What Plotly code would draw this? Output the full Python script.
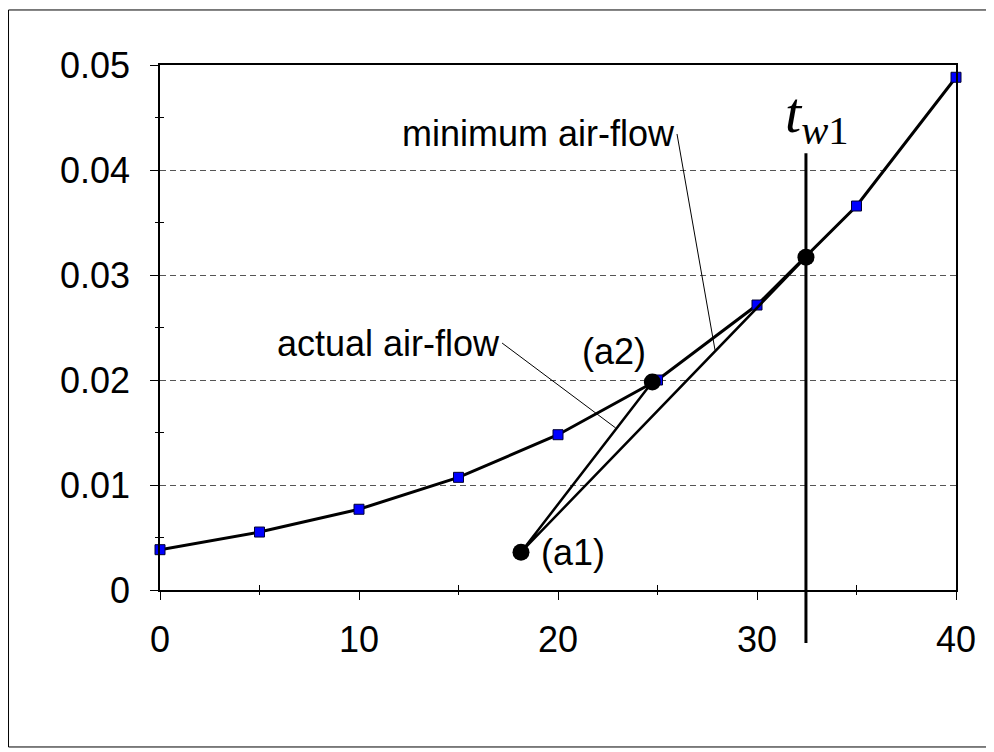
import plotly.graph_objects as go

# Saturation curve (temperature vs humidity ratio)
temps = [0, 5, 10, 15, 20, 25, 30, 35, 40]
sat_values = [0.00384, 0.00552, 0.00769, 0.01073, 0.01479, 0.0200, 0.02714, 0.03657, 0.04883]

# Process points
a1_x, a1_y = 18.14, 0.0036
a2_x, a2_y = 24.74, 0.0198
tw1_x, tw1_y = 32.46, 0.0317

x_major = [0, 10, 20, 30, 40]
x_minor = [5, 15, 25, 35]
y_major = [0, 0.01, 0.02, 0.03, 0.04, 0.05]
y_major_text = ["0", "0.01", "0.02", "0.03", "0.04", "0.05"]
y_minor = [0.005, 0.015, 0.025, 0.035, 0.045]

FONT = "Liberation Sans, Arial, sans-serif"
FS = 36

fig = go.Figure()

fig.add_trace(go.Scatter(
    x=temps, y=sat_values, mode="lines+markers",
    line=dict(color="black", width=3),
    marker=dict(symbol="square", size=10, color="#0000ff", line=dict(color="#000033", width=1)),
    cliponaxis=False, showlegend=False, hoverinfo="skip"))

fig.add_trace(go.Scatter(
    x=[a2_x, a1_x, tw1_x], y=[a2_y, a1_y, tw1_y], mode="lines",
    line=dict(color="black", width=2.5), showlegend=False, hoverinfo="skip"))

fig.add_trace(go.Scatter(
    x=[a1_x, a2_x, tw1_x], y=[a1_y, a2_y, tw1_y], mode="markers",
    marker=dict(symbol="circle", size=17, color="black"),
    cliponaxis=False, showlegend=False, hoverinfo="skip"))

# invisible trace for overlay axes (outer half of crossing minor ticks)
fig.add_trace(go.Scatter(x=[None], y=[None], xaxis="x2", yaxis="y2",
                         showlegend=False, hoverinfo="skip"))

fig.add_shape(type="line", xref="x", yref="paper", x0=tw1_x, x1=tw1_x, y0=-0.101, y1=0.832,
              line=dict(color="black", width=3))

# outer frame
fig.add_shape(type="rect", xref="paper", yref="paper", x0=-0.1903, x1=1.0427, y0=-0.299, y1=1.1048,
              line=dict(color="black", width=1))

ann_font = dict(family=FONT, size=FS, color="black")
fig.add_annotation(x=27.89, y=0.02286, ax=25.98, ay=0.04343, axref="x", ayref="y",
                   text="minimum air-flow", showarrow=True, arrowhead=0, arrowwidth=1,
                   arrowcolor="black", xanchor="right", yanchor="middle", font=ann_font)
fig.add_annotation(x=22.9, y=0.01543, ax=17.19, ay=0.02352, axref="x", ayref="y",
                   text="actual air-flow", showarrow=True, arrowhead=0, arrowwidth=1,
                   arrowcolor="black", xanchor="right", yanchor="middle", font=ann_font)
fig.add_annotation(x=a1_x, y=a1_y, text="(a1)", showarrow=False, xanchor="left", yanchor="middle",
                   xshift=18, font=ann_font)
fig.add_annotation(x=a2_x, y=a2_y, text="(a2)", showarrow=False, xanchor="right", yanchor="bottom",
                   xshift=-4, yshift=8, font=ann_font)
fig.add_annotation(x=tw1_x, y=0.832, yref="paper", text="<i>t</i><sub><i>w</i>1</sub>",
                   showarrow=False, xanchor="left", yanchor="bottom", xshift=-23, yshift=-2,
                   font=dict(family="Liberation Serif, Times New Roman, serif", size=58, color="black"))

fig.update_layout(
    width=986, height=744,
    margin=dict(l=152, r=38, t=57, b=162),
    paper_bgcolor="white", plot_bgcolor="white",
    font=dict(family=FONT, size=FS, color="black"),
    xaxis=dict(range=[0, 40], tickvals=x_major, ticks="outside", ticklen=8, tickwidth=1,
               tickcolor="black", showline=True, linecolor="black", linewidth=1.5, mirror=True,
               showgrid=False, zeroline=False, ticklabelstandoff=9,
               tickfont=dict(family=FONT, size=FS),
               minor=dict(tickvals=x_minor, ticks="inside", ticklen=5, tickcolor="black", showgrid=False)),
    yaxis=dict(range=[0, 0.05], tickvals=y_major, ticktext=y_major_text, ticks="outside", ticklen=8,
               tickwidth=1, tickcolor="black", showline=True, linecolor="black", linewidth=1.5,
               mirror=True, showgrid=True, gridcolor="#555555", griddash="6px,4px", gridwidth=1,
               zeroline=False, ticklabelstandoff=13, tickfont=dict(family=FONT, size=FS),
               minor=dict(tickvals=y_minor, ticks="inside", ticklen=4, tickcolor="black", showgrid=False)),
    xaxis2=dict(overlaying="x", anchor="y2", range=[0, 40], tickvals=x_minor, ticks="outside",
                ticklen=4, tickcolor="black", showticklabels=False, showgrid=False, zeroline=False,
                showline=False, side="bottom"),
    yaxis2=dict(overlaying="y", anchor="x2", range=[0, 0.05], tickvals=y_minor, ticks="outside",
                ticklen=4, tickcolor="black", showticklabels=False, showgrid=False, zeroline=False,
                showline=False, side="left"),
)

fig.write_html("out.html")
